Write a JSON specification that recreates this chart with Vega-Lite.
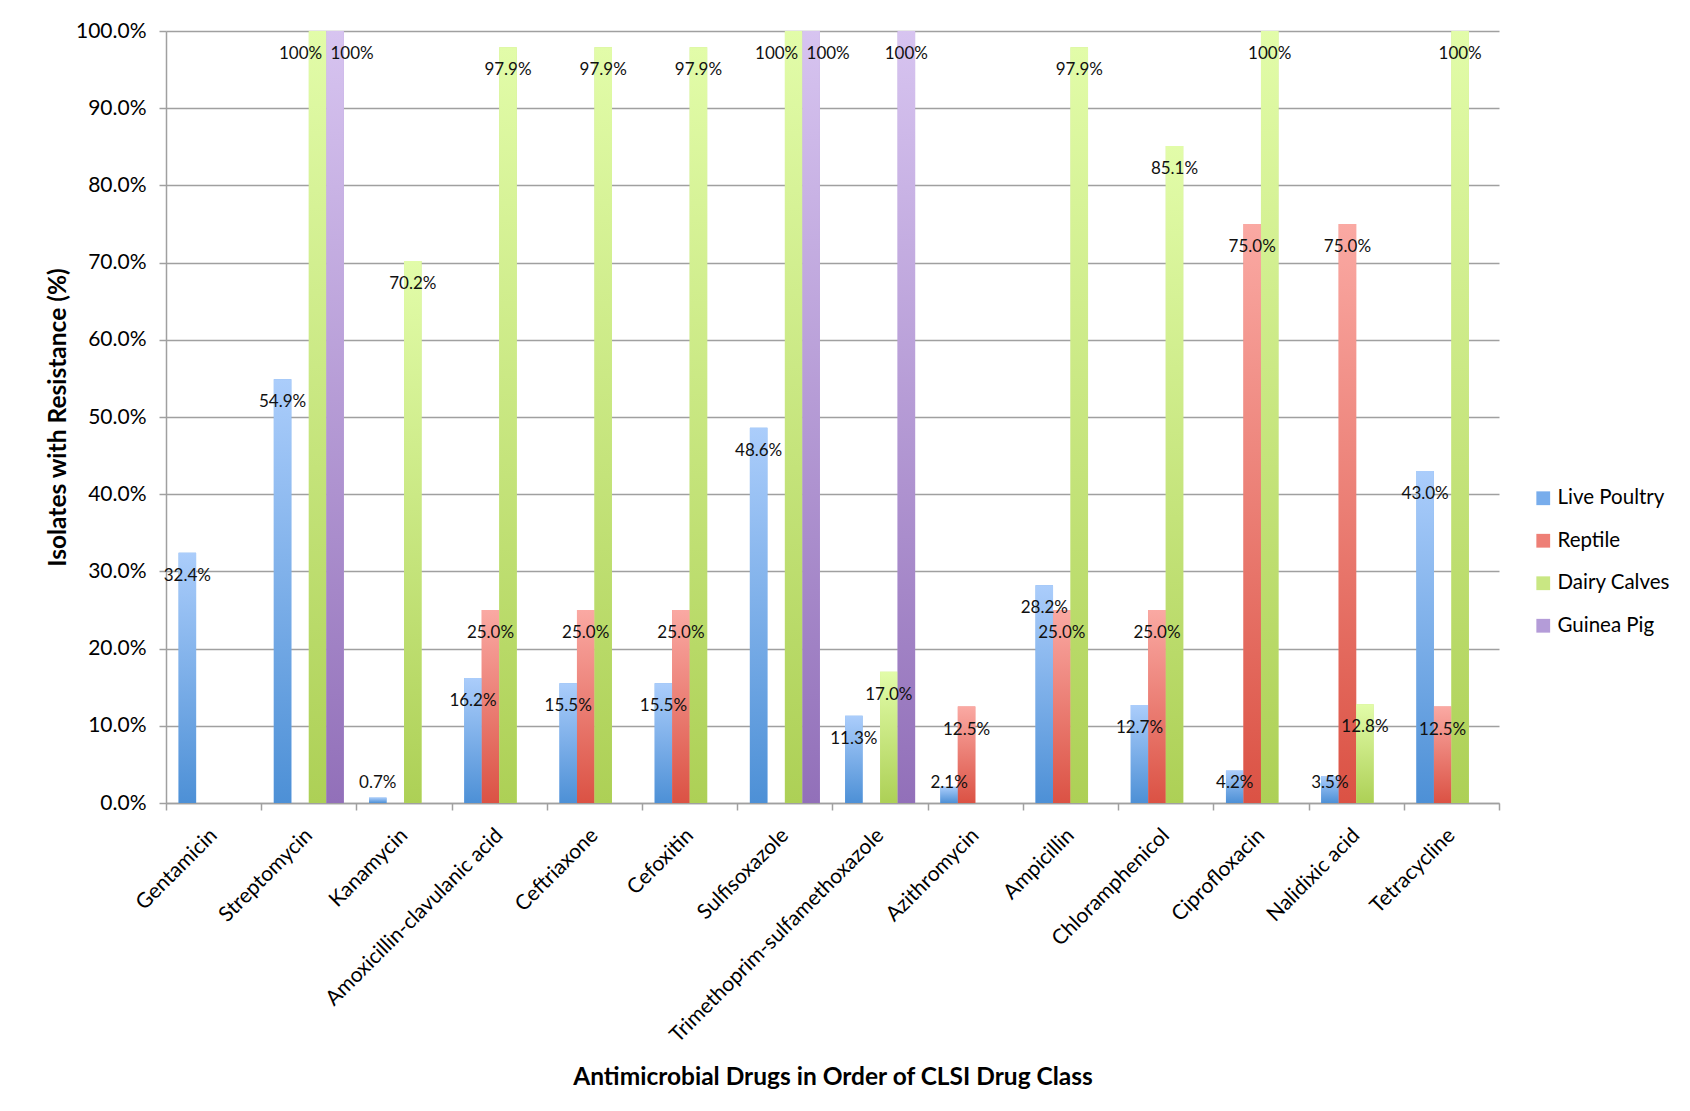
{
  "$schema": "https://vega.github.io/schema/vega-lite/v6.json",
  "width": 1333,
  "height": 772,
  "autosize": {"type": "none"},
  "padding": {"left": 166, "top": 31, "right": 191, "bottom": 308},
  "background": "white",
  "config": {
    "view": {"stroke": null},
    "font": "Lato",
    "axis": {"labelFont": "Lato", "titleFont": "Lato", "labelColor": "#000", "titleColor": "#000"}
  },
  "data": {
    "values": [
      {"drug": "Gentamicin", "series": "Live Poultry", "value": 0.324},
      {"drug": "Streptomycin", "series": "Live Poultry", "value": 0.549},
      {"drug": "Streptomycin", "series": "Dairy Calves", "value": 1.0},
      {"drug": "Streptomycin", "series": "Guinea Pig", "value": 1.0},
      {"drug": "Kanamycin", "series": "Live Poultry", "value": 0.007},
      {"drug": "Kanamycin", "series": "Dairy Calves", "value": 0.702},
      {"drug": "Amoxicillin-clavulanic acid", "series": "Live Poultry", "value": 0.162},
      {"drug": "Amoxicillin-clavulanic acid", "series": "Reptile", "value": 0.25},
      {"drug": "Amoxicillin-clavulanic acid", "series": "Dairy Calves", "value": 0.979},
      {"drug": "Ceftriaxone", "series": "Live Poultry", "value": 0.155},
      {"drug": "Ceftriaxone", "series": "Reptile", "value": 0.25},
      {"drug": "Ceftriaxone", "series": "Dairy Calves", "value": 0.979},
      {"drug": "Cefoxitin", "series": "Live Poultry", "value": 0.155},
      {"drug": "Cefoxitin", "series": "Reptile", "value": 0.25},
      {"drug": "Cefoxitin", "series": "Dairy Calves", "value": 0.979},
      {"drug": "Sulfisoxazole", "series": "Live Poultry", "value": 0.486},
      {"drug": "Sulfisoxazole", "series": "Dairy Calves", "value": 1.0},
      {"drug": "Sulfisoxazole", "series": "Guinea Pig", "value": 1.0},
      {"drug": "Trimethoprim-sulfamethoxazole", "series": "Live Poultry", "value": 0.113},
      {"drug": "Trimethoprim-sulfamethoxazole", "series": "Dairy Calves", "value": 0.17},
      {"drug": "Trimethoprim-sulfamethoxazole", "series": "Guinea Pig", "value": 1.0},
      {"drug": "Azithromycin", "series": "Live Poultry", "value": 0.021},
      {"drug": "Azithromycin", "series": "Reptile", "value": 0.125},
      {"drug": "Ampicillin", "series": "Live Poultry", "value": 0.282},
      {"drug": "Ampicillin", "series": "Reptile", "value": 0.25},
      {"drug": "Ampicillin", "series": "Dairy Calves", "value": 0.979},
      {"drug": "Chloramphenicol", "series": "Live Poultry", "value": 0.127},
      {"drug": "Chloramphenicol", "series": "Reptile", "value": 0.25},
      {"drug": "Chloramphenicol", "series": "Dairy Calves", "value": 0.851},
      {"drug": "Ciprofloxacin", "series": "Live Poultry", "value": 0.042},
      {"drug": "Ciprofloxacin", "series": "Reptile", "value": 0.75},
      {"drug": "Ciprofloxacin", "series": "Dairy Calves", "value": 1.0},
      {"drug": "Nalidixic acid", "series": "Live Poultry", "value": 0.035},
      {"drug": "Nalidixic acid", "series": "Reptile", "value": 0.75},
      {"drug": "Nalidixic acid", "series": "Dairy Calves", "value": 0.128},
      {"drug": "Tetracycline", "series": "Live Poultry", "value": 0.43},
      {"drug": "Tetracycline", "series": "Reptile", "value": 0.125},
      {"drug": "Tetracycline", "series": "Dairy Calves", "value": 1.0}
    ]
  },
  "encoding": {
    "x": {
      "field": "drug",
      "type": "nominal",
      "sort": ["Gentamicin", "Streptomycin", "Kanamycin", "Amoxicillin-clavulanic acid", "Ceftriaxone", "Cefoxitin", "Sulfisoxazole", "Trimethoprim-sulfamethoxazole", "Azithromycin", "Ampicillin", "Chloramphenicol", "Ciprofloxacin", "Nalidixic acid", "Tetracycline"],
      "scale": {"paddingInner": 0, "paddingOuter": 0},
      "title": "Antimicrobial Drugs in Order of CLSI Drug Class",
      "axis": {
        "labelAngle": -45,
        "labelAlign": "right",
        "labelBaseline": "middle",
        "labelFontSize": 21,
        "labelPadding": 22,
        "labelLimit": 0,
        "labelOverlap": false,
        "tickBand": "extent",
        "tickSize": 7,
        "tickColor": "#a0a0a0",
        "tickWidth": 1.5,
        "domainColor": "#a0a0a0",
        "domainWidth": 1.5,
        "grid": false,
        "titleFontSize": 24.5,
        "titleFontWeight": "bold",
        "titlePadding": 62
      }
    },
    "xOffset": {
      "field": "series",
      "type": "nominal",
      "sort": ["Live Poultry", "Reptile", "Dairy Calves", "Guinea Pig"],
      "scale": {"domain": ["Live Poultry", "Reptile", "Dairy Calves", "Guinea Pig"], "paddingInner": 0, "paddingOuter": 0.72}
    },
    "y": {
      "field": "value",
      "type": "quantitative",
      "scale": {"domain": [0, 1], "nice": false},
      "title": "Isolates with Resistance (%)",
      "axis": {
        "values": [0, 0.1, 0.2, 0.3, 0.4, 0.5, 0.6, 0.7, 0.8, 0.9, 1.0],
        "format": ".1%",
        "labelFontSize": 21,
        "labelPadding": 13,
        "tickSize": 7,
        "tickColor": "#a0a0a0",
        "tickWidth": 1.5,
        "domainColor": "#a0a0a0",
        "domainWidth": 1.5,
        "gridColor": "#a0a0a0",
        "gridWidth": 1.5,
        "gridOpacity": 1,
        "titleFontSize": 24.5,
        "titleFontWeight": "bold",
        "titlePadding": 5
      }
    }
  },
  "layer": [
    {
      "mark": {"type": "bar"},
      "encoding": {
        "color": {
          "field": "series",
          "type": "nominal",
          "sort": ["Live Poultry", "Reptile", "Dairy Calves", "Guinea Pig"],
          "scale": {
            "domain": ["Live Poultry", "Reptile", "Dairy Calves", "Guinea Pig"],
            "range": ["#78adec", "#ee7f76", "#c9e783", "#b49cd8"]
          },
          "legend": {
            "title": null,
            "orient": "none",
            "legendX": 1367,
            "legendY": 457,
            "symbolType": "square",
            "symbolSize": 190,
            "symbolStrokeWidth": 0,
            "symbolOpacity": 1,
            "labelFont": "Lato",
            "labelFontSize": 20.5,
            "labelColor": "#000",
            "labelOffset": 4,
            "rowPadding": 21.5
          }
        }
      }
    },
    {
      "transform": [{"filter": "datum.series == 'Live Poultry'"}],
      "mark": {"type": "bar", "color": {"gradient": "linear", "x1": 0, "y1": 0, "x2": 0, "y2": 1, "stops": [{"offset": 0, "color": "#abcdfb"}, {"offset": 1, "color": "#4d90d6"}]}},
      "encoding": {}
    },
    {
      "transform": [{"filter": "datum.series == 'Reptile'"}],
      "mark": {"type": "bar", "color": {"gradient": "linear", "x1": 0, "y1": 0, "x2": 0, "y2": 1, "stops": [{"offset": 0, "color": "#faa9a3"}, {"offset": 1, "color": "#db5244"}]}},
      "encoding": {}
    },
    {
      "transform": [{"filter": "datum.series == 'Dairy Calves'"}],
      "mark": {"type": "bar", "color": {"gradient": "linear", "x1": 0, "y1": 0, "x2": 0, "y2": 1, "stops": [{"offset": 0, "color": "#e2fca9"}, {"offset": 1, "color": "#add056"}]}},
      "encoding": {}
    },
    {
      "transform": [{"filter": "datum.series == 'Guinea Pig'"}],
      "mark": {"type": "bar", "color": {"gradient": "linear", "x1": 0, "y1": 0, "x2": 0, "y2": 1, "stops": [{"offset": 0, "color": "#d7c4f0"}, {"offset": 1, "color": "#9270b9"}]}},
      "encoding": {}
    },
    {
      "transform": [{"filter": "datum.value >= 0.06 && !((datum.drug == 'Streptomycin' || datum.drug == 'Sulfisoxazole') && (datum.series == 'Dairy Calves' || datum.series == 'Guinea Pig'))"}],
      "mark": {"type": "text", "dy": 23, "fontSize": 17, "font": "Lato", "color": "#111"},
      "encoding": {
        "text": {"condition": {"test": "datum.value >= 1", "value": "100%"}, "field": "value", "format": ".1%"}
      }
    },
    {
      "transform": [{"filter": "(datum.drug == 'Streptomycin' || datum.drug == 'Sulfisoxazole') && datum.series == 'Dairy Calves'"}],
      "mark": {"type": "text", "dy": 23, "dx": -17, "fontSize": 17, "font": "Lato", "color": "#111"},
      "encoding": {
        "text": {"condition": {"test": "datum.value >= 1", "value": "100%"}, "field": "value", "format": ".1%"}
      }
    },
    {
      "transform": [{"filter": "(datum.drug == 'Streptomycin' || datum.drug == 'Sulfisoxazole') && datum.series == 'Guinea Pig'"}],
      "mark": {"type": "text", "dy": 23, "dx": 17, "fontSize": 17, "font": "Lato", "color": "#111"},
      "encoding": {
        "text": {"condition": {"test": "datum.value >= 1", "value": "100%"}, "field": "value", "format": ".1%"}
      }
    },
    {
      "transform": [{"filter": "datum.value < 0.06"}],
      "mark": {"type": "text", "fontSize": 17, "font": "Lato", "color": "#111"},
      "encoding": {
        "y": {"datum": 0.0259, "type": "quantitative"},
        "text": {"field": "value", "format": ".1%"}
      }
    }
  ]
}
